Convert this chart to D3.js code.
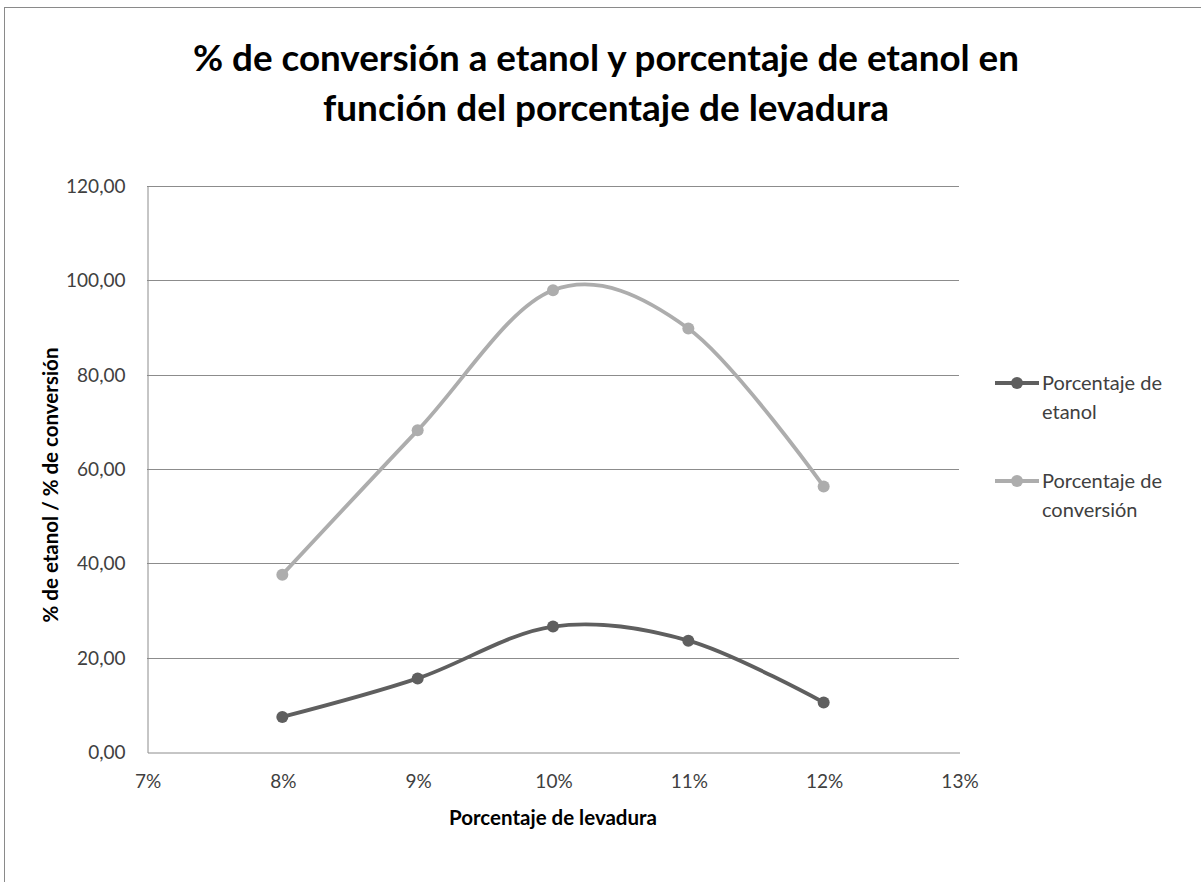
<!DOCTYPE html>
<html>
<head>
<meta charset="utf-8">
<script src="https://cdn.jsdelivr.net/npm/d3@7"></script>
<style>
  html, body { margin: 0; padding: 0; background: #fff; }
  svg { display: block; }
</style>
</head>
<body>
<div id="chart"></div>
<script>
// Levadura (%) on the x axis
const levadura = [8, 9, 10, 11, 12];
// Porcentaje de etanol
const etanol = [7.43, 15.6, 26.6, 23.6, 10.5];
// Porcentaje de conversión
const conversion = [37.6, 68.2, 97.9, 89.8, 56.3];

const xTicks = [7, 8, 9, 10, 11, 12, 13];
const yTicks = [0, 20, 40, 60, 80, 100, 120];

const seriesNames = ["Porcentaje de etanol", "Porcentaje de conversión"];
const legendLines = [["Porcentaje de", "etanol"], ["Porcentaje de", "conversión"]];
const seriesColors = ["#5f5f5f", "#adadad"];

const titleLines = [
  "% de conversión a etanol y porcentaje de etanol en",
  "función del porcentaje de levadura"
];

const W = 1201, H = 882;
const plot = { left: 147, right: 959, top: 186, bottom: 752 };
const font = "Lato, 'Open Sans', sans-serif";

const svg = d3.select("#chart").append("svg")
  .attr("width", W).attr("height", H);

// chart frame
svg.append("rect")
  .attr("x", 4.5).attr("y", 7.5)
  .attr("width", W + 20).attr("height", H + 20)
  .attr("fill", "#fff").attr("stroke", "#8a8a8a").attr("stroke-width", 1);

const x = d3.scaleLinear().domain([7, 13]).range([plot.left, plot.right]);
const y = d3.scaleLinear().domain([0, 120]).range([plot.bottom, plot.top]);

// title
svg.append("g").selectAll("text").data(titleLines).join("text")
  .attr("x", 606)
  .attr("y", (d, i) => 71 + i * 50)
  .attr("text-anchor", "middle")
  .attr("font-family", font)
  .attr("font-weight", "bold")
  .attr("font-size", 37)
  .attr("fill", "#000")
  .attr("textLength", (d, i) => i === 0 ? 826 : 566)
  .attr("lengthAdjust", "spacingAndGlyphs")
  .text(d => d);

// horizontal gridlines
svg.append("g").selectAll("line").data(yTicks.filter(t => t > 0)).join("line")
  .attr("x1", plot.left).attr("x2", plot.right)
  .attr("y1", d => Math.round(y(d)) + 0.5).attr("y2", d => Math.round(y(d)) + 0.5)
  .attr("stroke", "#8c8c8c").attr("stroke-width", 1);

// y axis
const yAxis = svg.append("g")
  .attr("transform", `translate(${plot.left + 0.5},0.5)`)
  .call(d3.axisLeft(y).tickValues(yTicks).tickSize(0).tickPadding(22)
    .tickFormat(d => d3.format(".2f")(d).replace(".", ",")));
yAxis.select(".domain").attr("stroke", "#8c8c8c");
yAxis.selectAll("text")
  .attr("font-family", font).attr("font-size", 19).attr("fill", "#404040");

// x axis
const xAxis = svg.append("g")
  .attr("transform", `translate(0.5,${plot.bottom + 0.5})`)
  .call(d3.axisBottom(x).tickValues(xTicks).tickSize(0).tickPadding(22)
    .tickFormat(d => d + "%"));
xAxis.select(".domain").attr("stroke", "#8c8c8c");
xAxis.selectAll("text")
  .attr("font-family", font).attr("font-size", 19).attr("fill", "#404040");

// axis titles
svg.append("text")
  .attr("x", (plot.left + plot.right) / 2).attr("y", 825)
  .attr("text-anchor", "middle")
  .attr("font-family", font).attr("font-weight", "bold").attr("font-size", 20.5)
  .attr("fill", "#000")
  .text("Porcentaje de levadura");

svg.append("text")
  .attr("transform", "translate(58,485) rotate(-90)")
  .attr("text-anchor", "middle")
  .attr("font-family", font).attr("font-weight", "bold").attr("font-size", 20.5)
  .attr("fill", "#000")
  .text("% de etanol / % de conversión");

// smoothed series
const series = [etanol, conversion];
const line = d3.line()
  .x(d => x(d[0])).y(d => y(d[1]))
  .curve(d3.curveCatmullRom.alpha(0));

series.forEach((vals, si) => {
  const pts = levadura.map((l, i) => [l, vals[i]]);
  const g = svg.append("g").attr("class", "series");
  g.append("path")
    .attr("d", line(pts))
    .attr("fill", "none")
    .attr("stroke", seriesColors[si])
    .attr("stroke-width", 3.8)
    .attr("stroke-linecap", "round");
  g.selectAll("circle").data(pts).join("circle")
    .attr("cx", d => x(d[0])).attr("cy", d => y(d[1]))
    .attr("r", 6)
    .attr("fill", seriesColors[si]);
});

// legend
const legend = svg.append("g");
seriesNames.forEach((name, i) => {
  const ly = 383 + i * 98;
  const g = legend.append("g");
  g.append("line")
    .attr("x1", 995).attr("x2", 1039).attr("y1", ly).attr("y2", ly)
    .attr("stroke", seriesColors[i]).attr("stroke-width", 3.8);
  g.append("circle")
    .attr("cx", 1017).attr("cy", ly).attr("r", 6)
    .attr("fill", seriesColors[i]);
  g.selectAll("text").data(legendLines[i]).join("text")
    .attr("x", 1042)
    .attr("y", (d, j) => ly + 7 + j * 29)
    .attr("font-family", font).attr("font-size", 20)
    .attr("fill", "#404040")
    .text(d => d);
});
</script>
</body>
</html>
